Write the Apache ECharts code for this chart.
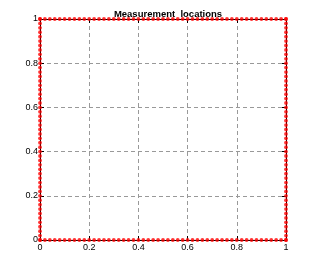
<!DOCTYPE html>
<html><head><meta charset="utf-8">
<script src="https://cdn.jsdelivr.net/npm/echarts@6/dist/echarts.min.js"></script>
<style>html,body{margin:0;padding:0;background:#fff}#c{width:315px;height:270px}</style>
</head><body><div id="c"></div>
<script>
const titleText = 'Measurement  locations';
const tickValues = [0, 0.2, 0.4, 0.6, 0.8, 1];
const sidePositions = [0,0.02,0.04,0.06,0.08,0.1,0.12,0.14,0.16,0.18,0.2,0.22,0.24,0.26,0.28,0.3,0.32,0.34,0.36,0.38,0.4,0.42,0.44,0.46,0.48,0.5,0.52,0.54,0.56,0.58,0.6,0.62,0.64,0.66,0.68,0.7,0.72,0.74,0.76,0.78,0.8,0.82,0.84,0.86,0.88,0.9,0.92,0.94,0.96,0.98,1];
const bottomEdge = sidePositions.map(v => [v, 0]);
const topEdge = sidePositions.map(v => [v, 1]);
const leftEdge = sidePositions.map(v => [0, v]);
const rightEdge = sidePositions.map(v => [1, v]);
const points = bottomEdge.concat(rightEdge, topEdge, leftEdge);

const fnt = 'Liberation Sans, Arial, sans-serif';
const fmt = v => (Math.abs(v) < 1e-9 ? '0' : (Math.abs(v-1) < 1e-9 ? '1' : String(+v.toFixed(1))));
const baseAxis = {
  min: 0, max: 1, interval: 0.2,
  axisLine: {show: true, onZero: false, lineStyle: {color: '#000', width: 1}},
  axisTick: {show: true, inside: true, length: 4, lineStyle: {color: '#000'}},
  splitLine: {show: false},
};
const chart = echarts.init(document.getElementById('c'), null, {renderer: 'canvas'});
chart.setOption({
  animation: false,
  backgroundColor: '#fff',
  title: {text: titleText, left: 163, top: 4, textAlign: 'center',
    textStyle: {fontFamily: fnt, fontSize: 9.5, fontWeight: 'bold', color: '#000'}},
  grid: {left: 40, right: 29, top: 19, bottom: 30},
  xAxis: [
    Object.assign({}, baseAxis, {type: 'value', position: 'bottom',
      axisLabel: {formatter: fmt, fontFamily: fnt, fontSize: 9, color: '#000', margin: 3},
      splitLine: {show: true, lineStyle: {color: '#999', type: [4, 3], width: 1}}}),
    Object.assign({}, baseAxis, {type: 'value', position: 'top', axisLabel: {show: false}})
  ],
  yAxis: [
    Object.assign({}, baseAxis, {type: 'value', position: 'left',
      axisLabel: {formatter: fmt, fontFamily: fnt, fontSize: 9, color: '#000', margin: 2},
      splitLine: {show: true, lineStyle: {color: '#999', type: [4, 3], width: 1}}}),
    Object.assign({}, baseAxis, {type: 'value', position: 'right', axisLabel: {show: false}})
  ],
  series: [{
    type: 'scatter', data: points, symbol: 'circle', symbolSize: 3.8, clip: false,
    itemStyle: {color: '#ff0000'}, z: 5
  }]
});
</script></body></html>
